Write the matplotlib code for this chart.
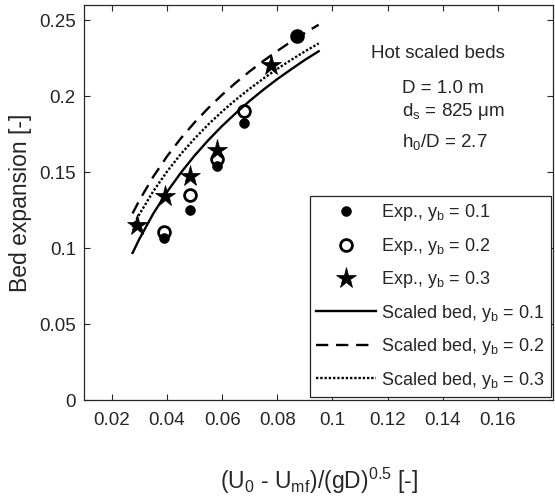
import matplotlib
matplotlib.use("Agg")
import matplotlib.pyplot as plt

plt.rcParams['font.family'] = ['Liberation Sans', 'DejaVu Sans']
plt.rcParams['mathtext.fontset'] = 'custom'
plt.rcParams['mathtext.rm'] = 'Liberation Sans'
plt.rcParams['mathtext.it'] = 'Liberation Sans:italic'
plt.rcParams['mathtext.default'] = 'regular'

# ---- data ----
x_exp1 = [0.039, 0.0482, 0.058, 0.0678, 0.0872]
y_exp1 = [0.107, 0.1255, 0.154, 0.1825, 0.2397]
x_exp2 = [0.039, 0.0482, 0.058, 0.0678, 0.0872]
y_exp2 = [0.1105, 0.1353, 0.1585, 0.1905, 0.2397]
x_exp3 = [0.029, 0.0392, 0.0482, 0.058, 0.0777]
y_exp3 = [0.1157, 0.1342, 0.1475, 0.1650, 0.2205]

x_model = [0.0275, 0.03, 0.035, 0.04, 0.045, 0.05, 0.055, 0.06, 0.065,
           0.07, 0.075, 0.08, 0.085, 0.09, 0.095]
y_model1 = [0.097, 0.1063, 0.1228, 0.1371, 0.1497, 0.1610, 0.1712, 0.1805,
            0.1890, 0.1970, 0.2044, 0.2113, 0.2177, 0.2239, 0.2296]
y_model2 = [0.123, 0.1317, 0.1471, 0.1605, 0.1723, 0.1828, 0.1923, 0.2010,
            0.2090, 0.2164, 0.2233, 0.2298, 0.2359, 0.2416, 0.2470]
y_model3 = [0.114, 0.1225, 0.1375, 0.1505, 0.1620, 0.1722, 0.1815, 0.1900,
            0.1978, 0.2050, 0.2117, 0.2180, 0.2239, 0.2295, 0.2347]

x_ticks = [0.02, 0.04, 0.06, 0.08, 0.1, 0.12, 0.14, 0.16]
x_ticklabels = ['0.02', '0.04', '0.06', '0.08', '0.1', '0.12', '0.14', '0.16']
y_ticks = [0, 0.05, 0.1, 0.15, 0.2, 0.25]
y_ticklabels = ['0', '0.05', '0.1', '0.15', '0.2', '0.25']

labels = ['Exp., y$_b$ = 0.1', 'Exp., y$_b$ = 0.2', 'Exp., y$_b$ = 0.3',
          'Scaled bed, y$_b$ = 0.1', 'Scaled bed, y$_b$ = 0.2',
          'Scaled bed, y$_b$ = 0.3']

txt_col = '#262626'

fig = plt.figure(figsize=(5.55, 5.01), dpi=100)
ax = fig.add_axes([0.1519, 0.2006, 0.8445, 0.7894])

l1, = ax.plot(x_model, y_model1, '-', color='k', lw=1.7)
l2, = ax.plot(x_model, y_model2, color='k', lw=1.7, linestyle=(0, (5.2, 3.3)))
l3, = ax.plot(x_model, y_model3, color='k', lw=1.7, linestyle=(0, (1, 0.8)))

m1, = ax.plot(x_exp1, y_exp1, linestyle='none', marker=(8, 2, 0), ms=7,
              mew=2.6, color='k')
m2, = ax.plot(x_exp2, y_exp2, linestyle='none', marker='o', ms=8.5, mew=2.0,
              mfc='none', mec='k')
m3, = ax.plot(x_exp3, y_exp3, linestyle='none', marker='*', ms=15.5, mew=0.5,
              color='k')

ax.set_xlim(0.01, 0.18)
ax.set_ylim(0, 0.26)
ax.set_xticks(x_ticks)
ax.set_xticklabels(x_ticklabels)
ax.set_yticks(y_ticks)
ax.set_yticklabels(y_ticklabels)

ax.tick_params(direction='in', length=4, width=0.8, top=True, right=True,
               labelsize=13.5, colors=txt_col)
ax.tick_params(axis='x', pad=8)
ax.tick_params(axis='y', pad=6)
for s in ax.spines.values():
    s.set_linewidth(0.9)
    s.set_color(txt_col)

ax.set_xlabel('(U$_0$ - U$_{mf}$)/(gD)$^{0.5}$ [-]', fontsize=16.5, color=txt_col)
ax.xaxis.set_label_coords(0.5, -0.2238)
ax.xaxis.label.set_verticalalignment('baseline')
ax.set_ylabel('Bed expansion [-]', fontsize=16.5, color=txt_col)
ax.yaxis.set_label_coords(-0.123, 0.5)
ax.yaxis.label.set_verticalalignment('baseline')

ax.text(0.6117, 0.8652, 'Hot scaled beds', transform=ax.transAxes,
        fontsize=13.5, color=txt_col, va='baseline', ha='left')
ax.text(0.6772, 0.7767, 'D = 1.0 m', transform=ax.transAxes,
        fontsize=13.5, color=txt_col, va='baseline', ha='left')
ax.text(0.6772, 0.7194, 'd$_s$ = 825 μm', transform=ax.transAxes,
        fontsize=13.5, color=txt_col, va='baseline', ha='left')
ax.text(0.6772, 0.6417, 'h$_0$/D = 2.7', transform=ax.transAxes,
        fontsize=13.5, color=txt_col, va='baseline', ha='left')

leg = ax.legend([m1, m2, m3, l1, l2, l3], labels, loc='lower right',
                bbox_to_anchor=(0.9957, 0.0088), borderaxespad=0,
                fontsize=13, handlelength=3.3, handletextpad=0.28,
                labelspacing=0.69, borderpad=0.35, fancybox=False,
                framealpha=1, edgecolor=txt_col)
leg.get_frame().set_linewidth(0.9)
for t in leg.get_texts():
    t.set_color(txt_col)

fig.savefig('out.png', dpi=100)
